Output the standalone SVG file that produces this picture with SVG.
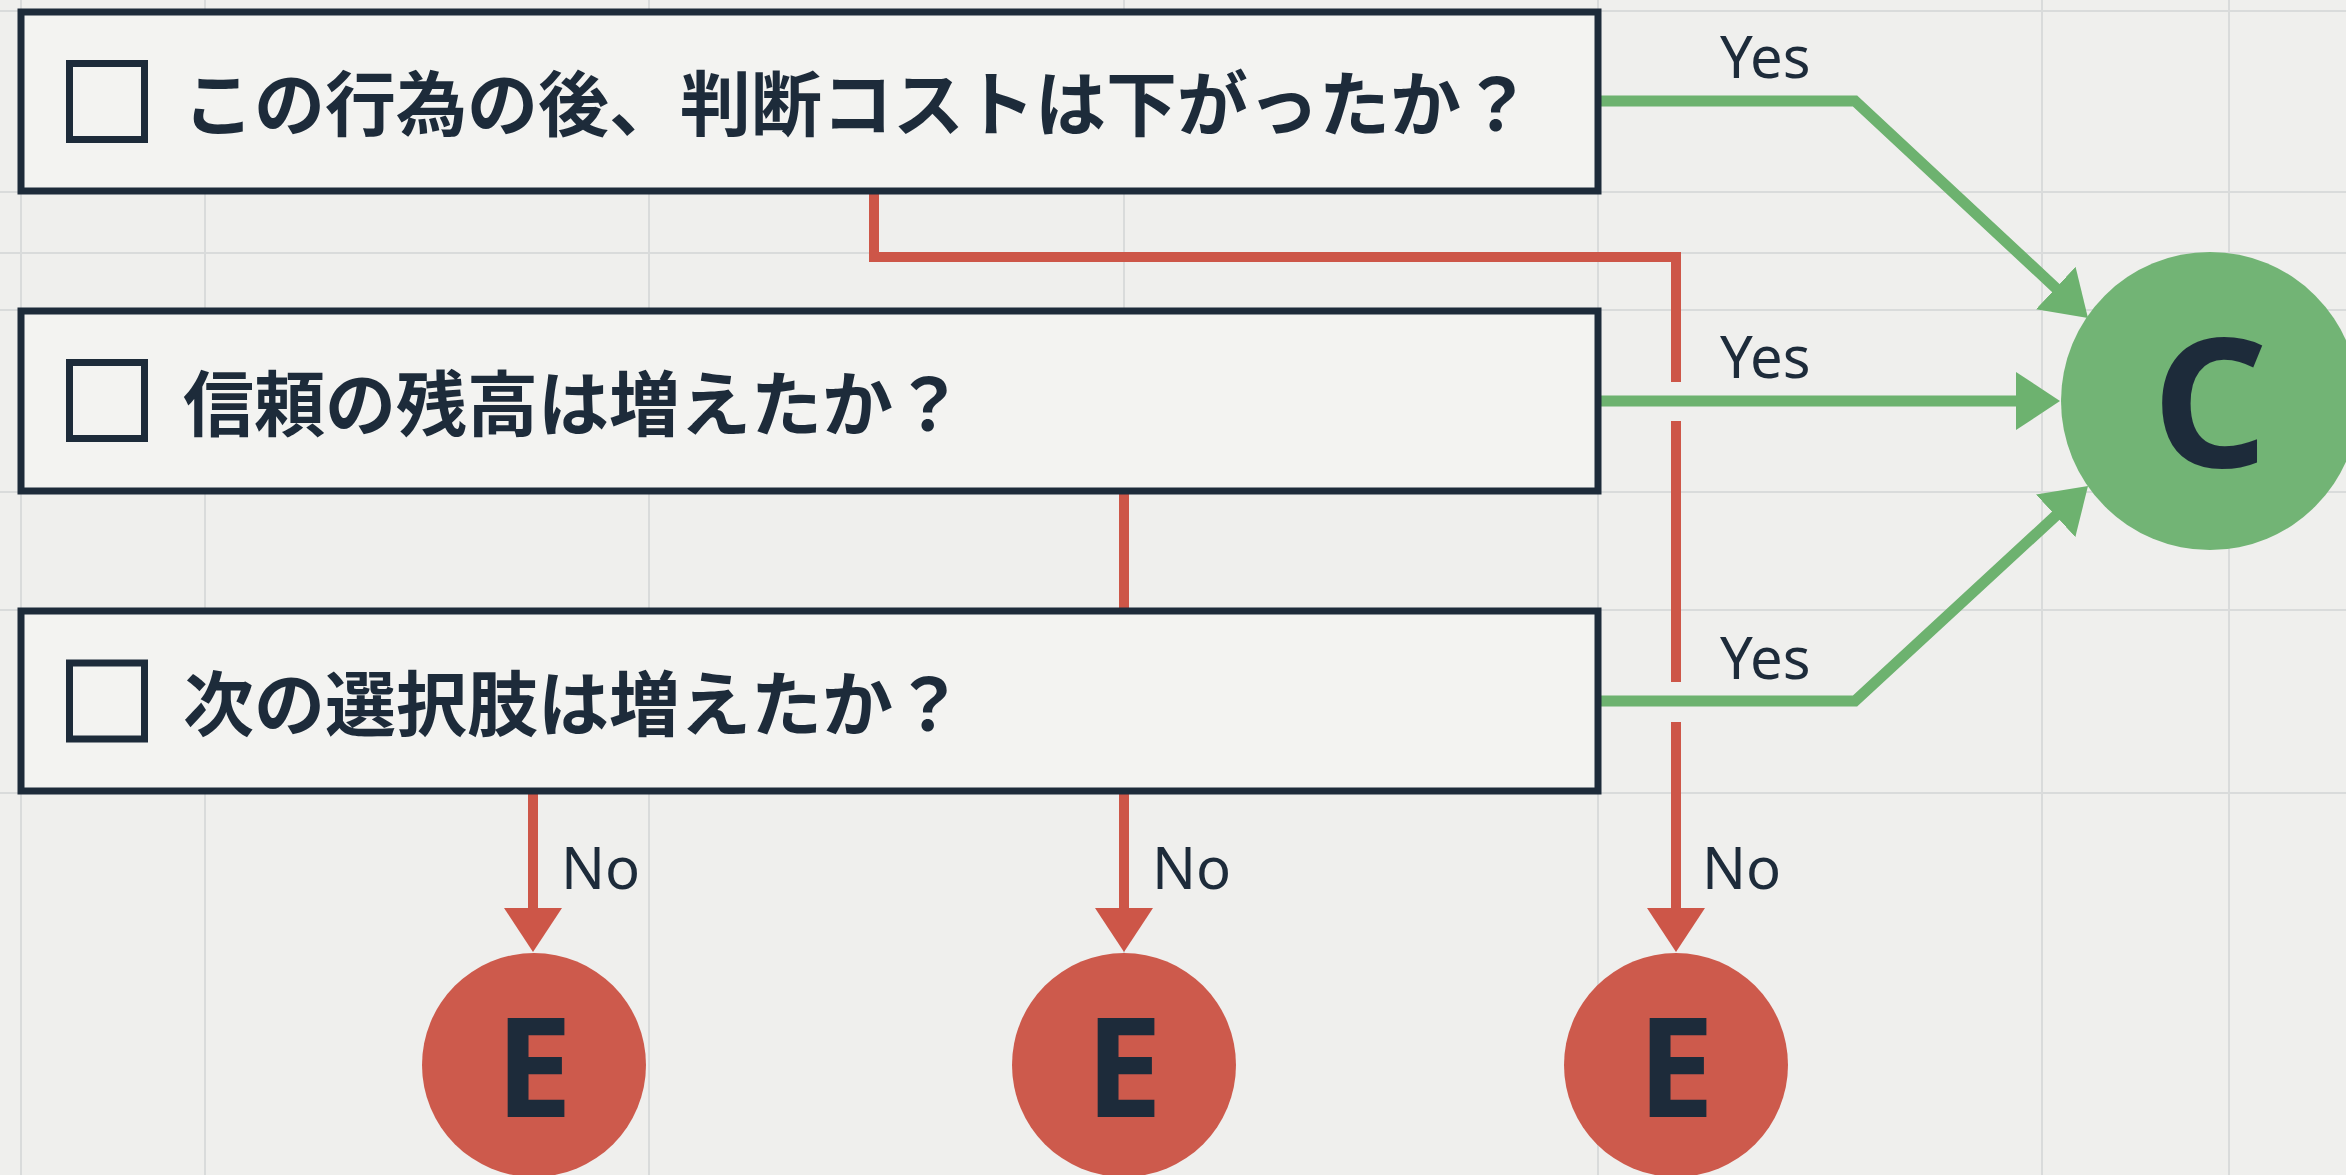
<svg xmlns="http://www.w3.org/2000/svg" width="2346" height="1175" viewBox="0 0 2346 1175">
<defs>
<style>
.grid{stroke:#d9dbdb;stroke-width:2;fill:none}
.box{fill:#f3f3f1;stroke:#1d2b3a;stroke-width:7}
.chk{fill:none;stroke:#1d2b3a;stroke-width:7}
.q{font-family:"Noto Sans CJK JP","Noto Sans",sans-serif;font-weight:700;font-size:71px;fill:#1d2b3a}
.lbl{font-family:"Noto Sans","Open Sans",sans-serif;font-size:58px;fill:#1d2b3a}
.red{stroke:#cd5648;stroke-width:10;fill:none;stroke-linejoin:miter}
.green{stroke:#6db26f;stroke-width:11;fill:none;stroke-linejoin:miter}
.ecirc{fill:#cd5a4c}
.ccirc{fill:#72b475}
.big{font-family:"Noto Sans","Open Sans",sans-serif;font-weight:700;fill:#1d2b3a;text-anchor:middle}
</style>
<marker id="ar" viewBox="0 0 44 58" refX="4" refY="29" markerWidth="44" markerHeight="58" markerUnits="userSpaceOnUse" orient="auto"><path d="M0,0 L44,29 L0,58 Z" fill="#cd5648"/></marker>
<marker id="ag" viewBox="0 0 44 58" refX="4" refY="29" markerWidth="44" markerHeight="58" markerUnits="userSpaceOnUse" orient="auto"><path d="M0,0 L44,29 L0,58 Z" fill="#6db26f"/></marker>
</defs>
<rect width="2346" height="1175" fill="#efefed"/>
<g id="grid">
<path class="grid" d="M21,0V1175 M205,0V1175 M649,0V1175 M1124,0V1175 M1598,0V1175 M2042,0V1175 M2229,0V1175"/>
<path class="grid" d="M0,11H2346 M0,192H2346 M0,253H2346 M0,310H2346 M0,492H2346 M0,610H2346 M0,793H2346"/>
</g>
<g id="connectors">
<path class="red" d="M874,191 V257 H1676 V382"/>
<path class="red" d="M1676,421 V682"/>
<path class="red" d="M1676,722 V912" marker-end="url(#ar)"/>
<path class="red" d="M1124,491 V611"/>
<path class="red" d="M1124,791 V912" marker-end="url(#ar)"/>
<path class="red" d="M533,791 V912" marker-end="url(#ar)"/>
<path class="green" d="M1598,101 H1855 L2058.7,290.7" marker-end="url(#ag)"/>
<path class="green" d="M1598,401 H2020" marker-end="url(#ag)"/>
<path class="green" d="M1598,701 H1855 L2058.6,513.1" marker-end="url(#ag)"/>
<text class="lbl" x="1720" y="78">Yes</text>
<text class="lbl" x="1720" y="378">Yes</text>
<text class="lbl" x="1720" y="679">Yes</text>
<text class="lbl" x="561" y="889">No</text>
<text class="lbl" x="1152" y="889">No</text>
<text class="lbl" x="1702" y="889">No</text>
</g>
<g id="q1">
<rect class="box" x="21" y="12" width="1577" height="179"/>
<rect class="chk" x="69.5" y="63.5" width="75" height="76"/>
<text class="q" x="183" y="130">この行為の後、判断コストは下がったか？</text>
</g>
<g id="q2">
<rect class="box" x="21" y="311" width="1577" height="180"/>
<rect class="chk" x="69.5" y="362.5" width="75" height="76"/>
<text class="q" x="183" y="430">信頼の残高は増えたか？</text>
</g>
<g id="q3">
<rect class="box" x="21" y="611" width="1577" height="180"/>
<rect class="chk" x="69.5" y="663" width="75" height="76"/>
<text class="q" x="183" y="730">次の選択肢は増えたか？</text>
</g>
<g id="C">
<circle class="ccirc" cx="2210" cy="401" r="149"/>
<text class="big" x="2210" y="467" font-size="180">C</text>
</g>
<g id="E1">
<circle class="ecirc" cx="534" cy="1065" r="112"/>
<text class="big" x="534" y="1117" font-size="138">E</text>
</g>
<g id="E2">
<circle class="ecirc" cx="1124" cy="1065" r="112"/>
<text class="big" x="1124" y="1117" font-size="138">E</text>
</g>
<g id="E3">
<circle class="ecirc" cx="1676" cy="1065" r="112"/>
<text class="big" x="1676" y="1117" font-size="138">E</text>
</g>
</svg>
